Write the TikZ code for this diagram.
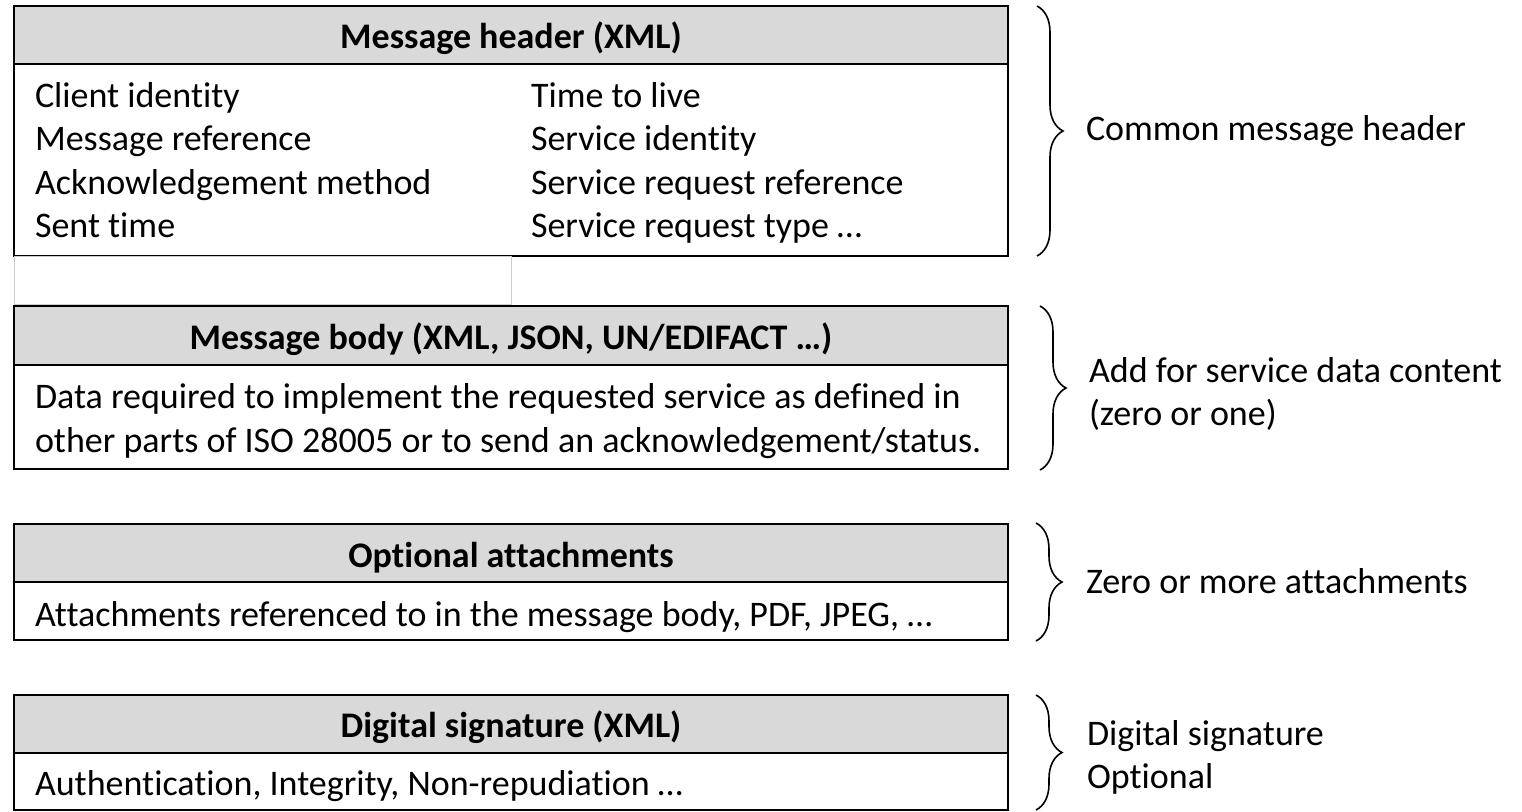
\documentclass[tikz,border=0pt]{standalone}
\usepackage{fontspec}
\setmainfont{Carlito}[Ligatures=NoCommon]
\usetikzlibrary{decorations.pathreplacing}

\definecolor{headgray}{RGB}{217,217,217}
\definecolor{ghostgray}{RGB}{205,205,205}

\tikzset{
  headtext/.style={font=\fontsize{18}{21}\selectfont\bfseries, anchor=base, inner sep=0pt},
  bodytext/.style={font=\fontsize{18}{21}\selectfont, anchor=base west, inner sep=0pt},
  sidetext/.style={font=\fontsize{18}{21}\selectfont, anchor=base west, inner sep=0pt},
  curly/.style={decorate, decoration={brace, amplitude=13pt}, line width=0.8pt},
}

\begin{document}
\begin{tikzpicture}[x=0.5pt, y=-0.5pt, line width=1pt]
  \useasboundingbox (0,0) rectangle (1522,811);

  % message header
  \fill[headgray] (14,6) rectangle (1008,64);
  \draw (14,6) rectangle (1008,256);
  \draw (14,64) -- (1008,64);
  \draw[ghostgray, line width=0.5pt] (14,256) rectangle (511,304);

  \node[headtext] (hdtitle) at (511,48) {Message header (XML)};
  \node[bodytext] (hdclient) at (34,107) {Client identity};
  \node[bodytext] (hdref) at (34,150.5) {Message reference};
  \node[bodytext] (hdack) at (34,194) {Acknowledgement method};
  \node[bodytext] (hdsent) at (34,237.5) {Sent time};
  \node[bodytext] (hdttl) at (530,107) {Time to live};
  \node[bodytext] (hdservice) at (530,150.5) {Service identity};
  \node[bodytext] (hdsrref) at (530,194) {Service request reference};
  \node[bodytext] (hdsrtype) at (530,237.5) {Service request type …};

  % message body
  \fill[headgray] (14,306) rectangle (1008,365);
  \draw (14,306) rectangle (1008,469);
  \draw (14,365) -- (1008,365);

  \node[headtext] (bdtitle) at (511,349) {Message body (XML, JSON, UN/EDIFACT …)};
  \node[bodytext] (bdline1) at (34,408) {Data required to implement the requested service as defined in};
  \node[bodytext] (bdline2) at (34,452) {other parts of ISO 28005 or to send an acknowledgement/status.};

  % attachments
  \fill[headgray] (14,524) rectangle (1008,582);
  \draw (14,524) rectangle (1008,640);
  \draw (14,582) -- (1008,582);

  \node[headtext] (attitle) at (511,567) {Optional attachments};
  \node[bodytext] (atline) at (34,626) {Attachments referenced to in the message body, PDF, JPEG, …};

  % digital signature
  \fill[headgray] (14,695) rectangle (1008,753);
  \draw (14,695) rectangle (1008,810);
  \draw (14,753) -- (1008,753);

  \node[headtext] (sgtitle) at (511,737) {Digital signature (XML)};
  \node[bodytext] (sgline) at (34,795) {Authentication, Integrity, Non-repudiation …};

  % braces
  \coordinate (hdtop) at (1037,6);
  \coordinate (hdbot) at (1037,256);
  \coordinate (bdtop) at (1040,306);
  \coordinate (bdbot) at (1040,470);
  \coordinate (attop) at (1036,523);
  \coordinate (atbot) at (1036,641);
  \coordinate (sgtop) at (1036,695);
  \coordinate (sgbot) at (1036,810);
  \draw[curly] (hdtop) -- (hdbot);
  \draw[curly] (bdtop) -- (bdbot);
  \draw[curly] (attop) -- (atbot);
  \draw[curly] (sgtop) -- (sgbot);

  \node[sidetext] (hdnote) at (1085,140) {Common message header};
  \node[sidetext] (bdnote1) at (1088,382) {Add for service data content};
  \node[sidetext] (bdnote2) at (1088,425.5) {(zero or one)};
  \node[sidetext] (atnote) at (1085,593) {Zero or more attachments};
  \node[sidetext] (sgnote1) at (1086,745) {Digital signature};
  \node[sidetext] (sgnote2) at (1086,788) {Optional};
\end{tikzpicture}
\end{document}
